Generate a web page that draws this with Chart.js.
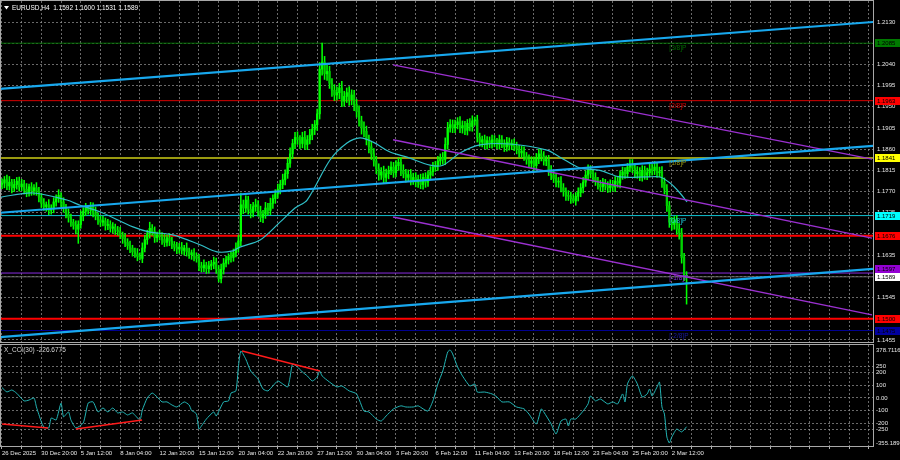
<!DOCTYPE html>
<html>
<head>
<meta charset="utf-8">
<script src="https://cdn.jsdelivr.net/npm/chart.js@4.4.1/dist/chart.umd.min.js"></script>
<style>
  html, body { margin: 0; padding: 0; background: #000; }
  #wrap { position: relative; width: 900px; height: 460px; background: #000; overflow: hidden; }
  #price { position: absolute; left: 0; top: 0; }
  #cci { position: absolute; left: 0; top: 344px; }
</style>
</head>
<body>
<div id="wrap">
  <canvas id="price" width="900" height="344"></canvas>
  <canvas id="cci" width="900" height="116"></canvas>
</div>
<script>
// ---- data ----
const symbol = "EURUSD,H4";
const timeLabels = ["26 Dec 2025", "30 Dec 20:00", "5 Jan 12:00", "8 Jan 04:00", "12 Jan 20:00",
  "15 Jan 12:00", "20 Jan 04:00", "22 Jan 20:00", "27 Jan 12:00", "30 Jan 04:00", "3 Feb 20:00",
  "6 Feb 12:00", "11 Feb 04:00", "13 Feb 20:00", "18 Feb 12:00", "23 Feb 04:00", "25 Feb 20:00",
  "2 Mar 12:00"];

const firstOpen = 1.1785;
const closes = [
  1.1788, 1.1795, 1.1782, 1.1790, 1.1778, 1.1785, 1.1792, 1.1780,
  1.1786, 1.1775, 1.1768, 1.1780, 1.1772, 1.1778, 1.1770, 1.1758,
  1.1745, 1.1738, 1.1742, 1.1730, 1.1735, 1.1748, 1.1755, 1.1762,
  1.1748, 1.1735, 1.1722, 1.1715, 1.1705, 1.1698, 1.1690, 1.1700,
  1.1718, 1.1728, 1.1735, 1.1730, 1.1738, 1.1725, 1.1718, 1.1710,
  1.1705, 1.1708, 1.1698, 1.1700, 1.1692, 1.1695, 1.1688, 1.1685,
  1.1678, 1.1670, 1.1662, 1.1655, 1.1650, 1.1642, 1.1638, 1.1632,
  1.1628, 1.1650, 1.1668, 1.1680, 1.1692, 1.1685, 1.1672, 1.1678,
  1.1675, 1.1668, 1.1662, 1.1672, 1.1665, 1.1658, 1.1652, 1.1648,
  1.1652, 1.1645, 1.1650, 1.1642, 1.1636, 1.1640, 1.1632, 1.1628,
  1.1612, 1.1608, 1.1614, 1.1606, 1.1612, 1.1616, 1.1620, 1.1605,
  1.1585, 1.1605, 1.1618, 1.1625, 1.1632, 1.1630, 1.1640, 1.1650,
  1.1665, 1.1742, 1.1735, 1.1752, 1.1732, 1.1725, 1.1738, 1.1742,
  1.1728, 1.1715, 1.1722, 1.1735, 1.1730, 1.1745, 1.1755, 1.1765,
  1.1775, 1.1785, 1.1795, 1.1808, 1.1830, 1.1850, 1.1872, 1.1885,
  1.1880, 1.1872, 1.1885, 1.1870, 1.1880, 1.1890, 1.1902, 1.1912,
  1.1935, 1.2030, 1.2045, 1.2020, 1.2025, 1.2000, 1.1985, 1.1975,
  1.1980, 1.1990, 1.1962, 1.1972, 1.1980, 1.1965, 1.1975, 1.1955,
  1.1940, 1.1920, 1.1905, 1.1898, 1.1880, 1.1865, 1.1850, 1.1835,
  1.1818, 1.1805, 1.1812, 1.1800, 1.1808, 1.1815, 1.1822, 1.1810,
  1.1825, 1.1832, 1.1815, 1.1808, 1.1800, 1.1806, 1.1795, 1.1800,
  1.1790, 1.1796, 1.1785, 1.1800, 1.1790, 1.1805, 1.1812, 1.1822,
  1.1825, 1.1835, 1.1842, 1.1838, 1.1870, 1.1905, 1.1912, 1.1905,
  1.1912, 1.1918, 1.1905, 1.1910, 1.1900, 1.1915, 1.1908, 1.1920,
  1.1922, 1.1885, 1.1875, 1.1880, 1.1870, 1.1878, 1.1872, 1.1880,
  1.1875, 1.1870, 1.1880, 1.1872, 1.1865, 1.1875, 1.1868, 1.1872,
  1.1866, 1.1860, 1.1852, 1.1856, 1.1845, 1.1838, 1.1830, 1.1835,
  1.1825, 1.1840, 1.1850, 1.1845, 1.1835, 1.1838, 1.1815, 1.1805,
  1.1798, 1.1790, 1.1792, 1.1778, 1.1770, 1.1762, 1.1760, 1.1755,
  1.1750, 1.1760, 1.1768, 1.1778, 1.1790, 1.1805, 1.1815, 1.1808,
  1.1800, 1.1792, 1.1785, 1.1780, 1.1788, 1.1782, 1.1778, 1.1785,
  1.1780, 1.1792, 1.1788, 1.1805, 1.1812, 1.1808, 1.1822, 1.1828,
  1.1820, 1.1808, 1.1812, 1.1802, 1.1815, 1.1805, 1.1810, 1.1818,
  1.1815, 1.1822, 1.1810, 1.1812, 1.1790, 1.1775, 1.1740, 1.1705,
  1.1700, 1.1708, 1.1690, 1.1682, 1.1630, 1.1592, 1.1589
];
// wick lengths in pips above / below the body
const upperWicks = [
  9,7,10,12,6,11,8,9, 10,8,12,6,9,7,11,9, 8,10,6,11,7,9,8,12, 6,9,8,11,7,6,10,8,
  11,8,10,6,9,8,12,7, 8,10,6,11,8,9,6,8, 9,6,11,8,10,6,8,11, 8,11,9,8,13,8,10,6,
  10,8,11,6,9,8,6,10, 8,10,6,11,8,6,9,8, 9,8,11,6,10,8,11,9, 8,11,10,8,6,9,8,11,
  12,25,10,9,8,11,9,12, 9,11,8,12,10,11,8,9, 11,9,12,8,11,13,9,11, 12,9,11,13,9,12,11,9,
  10,14,40,12,14,11,10,12, 12,10,14,11,10,13,11,10, 11,12,10,13,11,10,12,11, 10,11,9,12,10,9,11,10,
  11,9,10,12,9,10,11,9, 10,9,11,8,10,9,11,10, 9,10,8,11,14,12,11,10, 10,9,11,10,9,8,10,11,
  6,10,9,8,10,9,8,10, 9,8,10,9,8,10,9,8, 10,9,8,10,9,8,10,9, 9,11,10,9,10,8,9,10,
  10,9,8,10,9,8,10,9, 9,8,10,9,10,9,12,10, 9,10,8,9,10,8,9,10, 9,10,8,9,10,9,8,10,
  10,9,11,9,10,9,10,11, 10,12,9,10,11,9,10,9, 10,9,11,12,10,9,8
];
const lowerWicks = [
  9,10,8,9,11,8,10,9, 8,10,9,8,10,9,8,10, 9,8,10,9,8,10,9,8, 10,9,8,10,9,8,10,30,
  8,10,9,8,10,9,8,10, 9,8,10,9,8,10,9,8, 8,10,9,8,10,9,8,9, 3,9,8,10,9,8,10,9,
  8,10,9,8,10,9,8,10, 9,8,10,9,8,10,9,8, 10,9,8,10,9,8,10,9, 7,9,10,8,9,10,8,9,
  9,10,12,9,10,11,9,10, 10,9,11,9,10,9,11,10, 9,10,9,11,10,9,10,11, 10,11,9,10,11,9,10,11,
  12,11,13,12,14,11,13,12, 11,13,12,11,13,12,11,13, 12,11,13,12,11,13,12,11, 10,11,9,12,10,11,9,10,
  9,10,11,9,10,9,11,10, 10,11,9,10,11,9,10,9, 9,10,9,10,11,10,9,10, 10,9,10,11,9,10,9,10,
  9,10,9,10,9,10,9,10, 10,9,10,9,10,9,10,9, 9,10,9,10,9,10,9,10, 10,9,11,10,9,10,11,10,
  9,10,11,9,10,11,9,10, 4,9,10,9,11,9,10,9, 10,9,10,9,10,9,10,9, 9,10,9,10,9,10,9,10,
  10,9,10,9,10,9,10,9, 10,9,10,9,11,10,12,11, 12,10,11,13,12,11,58
];

// moving average: [bar, price]
const maPoints = [
  [-0.8, 1.1758], [12.6, 1.1767], [26.4, 1.1752], [31.7, 1.1741], [39.8, 1.1727], [53.2, 1.1695],
  [60.1, 1.1684], [69.4, 1.1678], [80.4, 1.1657], [87.3, 1.1642], [93.8, 1.1644], [96.6, 1.1652],
  [104.8, 1.1667], [112.9, 1.1705], [119, 1.1735], [123.9, 1.1752], [133.2, 1.1837], [140.1, 1.1873],
  [145.4, 1.1884], [150.7, 1.1875], [157.6, 1.1854], [164.5, 1.1843], [173.8, 1.1826], [179.1, 1.1826],
  [186, 1.1852], [194.1, 1.1869], [206.3, 1.1871], [221.3, 1.1858], [226.6, 1.1843], [234.7, 1.1820],
  [242.8, 1.1815], [251, 1.1801], [261.9, 1.1801], [267.2, 1.1801], [271.3, 1.1788], [275.3, 1.1767],
  [278.2, 1.1748]
];

// channel lines (cyan) and fan lines (purple): [bar, price] end points
const channelLines = [
  [[-0.8, 1.1988], [353.7, 1.2130]],
  [[-0.8, 1.1725], [353.7, 1.1867]],
  [[-0.8, 1.1461], [353.7, 1.1606]]
];
const fanLines = [
  [[158.8, 1.2039], [353.3, 1.1839]],
  [[158.8, 1.1880], [353.3, 1.1671]],
  [[158.8, 1.1716], [353.3, 1.1508]]
];

const murrayValues = [1.2085, 1.1963, 1.1841, 1.1719, 1.1597, 1.1475];
const murrayNames = ["[3/8]P", "[2/8]P", "[1/8]P", "[0/8]P", "[-1/8]P", "[-2/8]P"];
const supportLevels = [1.1676, 1.1500];
const bidPrice = 1.1589;

const priceTicks = [1.1455, 1.1500, 1.1545, 1.1590, 1.1635, 1.1680, 1.1725, 1.1770, 1.1815,
  1.1860, 1.1905, 1.1950, 1.1995, 1.2040, 1.2085, 1.2130];

// CCI(30): [bar, value]
const cciPoints = [
  [0,82],[2,48],[4,63],[6,37],[9,-23],[11,-16],[13,0],[14,-71],[16,-189],[17,-229],[19,-236],[20,-158],
  [22,-173],[24,-40],[25,-149],[27,-110],[28,-173],[30,-236],[33,-197],[35,-40],[37,-31],[39,-110],
  [41,-79],[43,-110],[45,-79],[47,-118],[49,-110],[51,-134],[53,-118],[56,-173],[57,-95],[59,0],[61,39],
  [63,8],[65,-31],[67,-31],[69,-55],[71,-71],[74,-31],[76,-55],[77,-99],[78,-110],[79,-127],[80,-245],
  [81,-221],[83,-166],[86,-110],[87,-142],[90,-31],[92,-23],[93,39],[95,56],[96,245],[97,370],[99,307],
  [101,213],[104,150],[106,71],[108,56],[110,95],[112,134],[114,111],[116,87],[117,165],[118,268],
  [120,245],[122,205],[124,174],[126,134],[128,165],[129,213],[130,174],[133,126],[136,87],[138,95],
  [141,56],[144,32],[147,-103],[149,-110],[152,-166],[154,-182],[156,-142],[159,-86],[162,-62],[164,-71],
  [167,-71],[169,-62],[171,-86],[173,-103],[175,-23],[177,111],[179,213],[181,363],[182,378.7116],
  [183,348],[185,245],[187,174],[190,95],[192,111],[193,47],[196,47],[199,32],[201,8],[203,-31],
  [206,-31],[209,-71],[212,-86],[214,-127],[217,-205],[219,-86],[220,-110],[223,-205],[225,-284],
  [227,-182],[229,-166],[230,-221],[231,-166],[233,-166],[236,-103],[238,-47],[239,16],[241,-23],
  [243,-8],[246,-47],[248,-31],[250,-47],[252,32],[253,-31],[254,111],[256,174],[258,111],[260,8],
  [262,32],[263,71],[264,16],[266,87],[267,126],[268,-71],[269,-127],[270,-308],[271,-355.189],
  [272,-308],[274,-245],[276,-268],[278,-226.6775]
];
const cciDivergences = [
  [[0, -205], [18.7, -237]],
  [[30, -245], [56.9, -174]],
  [[97.5, 371], [129.1, 213]]
];
const cciTicks = [-355.189, -250, -200, -100, 0, 100, 200, 250, 378.7116];
const cciPeriod = 30;

// ---- build ----
const FONT = "'Liberation Sans', Arial, sans-serif";
Chart.defaults.font.family = FONT;
Chart.defaults.font.size = 6;

const X_MIN = -0.8, X_MAX = 353.7;
const gridColor = "rgba(150,150,150,0.7)";
const frameColor = "#a8a8a8";

const opens = closes.map((c, i) => i === 0 ? firstOpen : closes[i - 1]);
const highs = closes.map((c, i) => Math.max(opens[i], c) + upperWicks[i] * 0.0001);
const lows = closes.map((c, i) => Math.min(opens[i], c) - lowerWicks[i] * 0.0001);

const wickData = closes.map((c, i) => ({ x: i, y: [lows[i], highs[i]] }));
const bodyData = closes.map((c, i) => ({ x: i, y: [opens[i], c] }));
const bodyColors = closes.map((c, i) => c >= opens[i] ? "#00ff00" : "#00d200");

const murrayColors = ["#006a00", "#d80000", "#9a9a10", "#10c0d0", "#8a2be2", "#000090"];
const murrayTags = ["#007a00", "#ff0000", "#ffff00", "#00ffff", "#9400d3", "#0000a0"];
const murrayWidths = [1, 1, 2, 1, 1, 1];

function segment(points) {
  return points.map(p => ({ x: p[0], y: p[1] }));
}
function hline(v) {
  return [{ x: X_MIN, y: v }, { x: X_MAX, y: v }];
}

const datasets = [];
channelLines.forEach(l => datasets.push({
  type: "line", data: segment(l), borderColor: "#18a8ee", borderWidth: 2.2,
  pointRadius: 0, order: 0
}));
fanLines.forEach(l => datasets.push({
  type: "line", data: segment(l), borderColor: "#9b30d0", borderWidth: 1.3,
  pointRadius: 0, order: 0
}));
datasets.push({
  type: "line", data: segment(maPoints), borderColor: "#30c0c8", borderWidth: 1.2,
  pointRadius: 0, tension: 0.3, order: 1
});
datasets.push({
  type: "bar", data: bodyData, backgroundColor: bodyColors, barThickness: 1.6,
  minBarLength: 1, grouped: false, order: 2
});
datasets.push({
  type: "bar", data: wickData, backgroundColor: "#00ff00", barThickness: 0.9,
  grouped: false, order: 3
});
murrayValues.forEach((v, i) => datasets.push({
  type: "line", data: hline(v), borderColor: murrayColors[i], borderWidth: murrayWidths[i],
  pointRadius: 0, order: 5
}));
supportLevels.forEach(v => datasets.push({
  type: "line", data: hline(v), borderColor: "#ff0000", borderWidth: 2,
  pointRadius: 0, order: 5
}));
datasets.push({
  type: "line", data: hline(bidPrice), borderColor: "#6a6a6a", borderWidth: 1,
  pointRadius: 0, order: 5
});

function xGridTicks(scale) {
  const t = [];
  for (let v = 0; v <= X_MAX; v += 8) t.push({ value: v });
  scale.ticks = t;
}
function noPad(s) {
  s.paddingTop = 0; s.paddingBottom = 0; s.paddingLeft = 0; s.paddingRight = 0;
}

// price tags on the right axis; a tag that would overlap the one below is pushed up
function drawTags(chart, tags) {
  const { ctx, chartArea, scales } = chart;
  const H = 8;
  const items = tags.map(t => Object.assign({ py: Math.round(scales.y.getPixelForValue(t.value)) }, t))
    .sort((a, b) => b.py - a.py);
  for (let i = 1; i < items.length; i++) {
    if (items[i - 1].py - items[i].py < H) items[i].py = items[i - 1].py - H;
  }
  ctx.font = "6px " + FONT;
  ctx.textAlign = "left";
  ctx.textBaseline = "middle";
  items.forEach(t => {
    ctx.fillStyle = t.bg;
    ctx.fillRect(chartArea.right + 2, t.py - 4, 25, H);
    ctx.fillStyle = "#000";
    ctx.fillText(t.value.toFixed(4), chartArea.right + 4, t.py + 0.5);
  });
}

const pricePlugin = {
  id: "pricePlugin",
  afterDatasetsDraw(chart) {
    const { ctx, scales } = chart;
    ctx.save();
    ctx.font = "6.5px " + FONT;
    ctx.textAlign = "left";
    ctx.textBaseline = "top";
    const lx = scales.x.getPixelForValue(271);
    murrayValues.forEach((v, i) => {
      ctx.fillStyle = i === 3 ? "#20c8d8" : (i === 5 ? "#1a1aa0" : murrayColors[i]);
      ctx.fillText(murrayNames[i], lx, scales.y.getPixelForValue(v) + 2);
    });
    ctx.restore();
  },
  afterDraw(chart) {
    const { ctx, chartArea } = chart;
    ctx.save();
    ctx.strokeStyle = frameColor;
    ctx.lineWidth = 1;
    ctx.strokeRect(chartArea.left + 0.5, chartArea.top - 0.5, chartArea.right - chartArea.left, chartArea.bottom - chartArea.top + 1);
    const tags = murrayValues.map((v, i) => ({ value: v, bg: murrayTags[i] }));
    supportLevels.forEach(v => tags.push({ value: v, bg: "#ff0000" }));
    tags.push({ value: bidPrice, bg: "#ffffff" });
    drawTags(chart, tags);
    // title
    const n = closes.length - 1;
    ctx.fillStyle = "#ffffff";
    ctx.beginPath();
    ctx.moveTo(4, 6); ctx.lineTo(9, 6); ctx.lineTo(6.5, 9.5); ctx.closePath(); ctx.fill();
    ctx.font = "6.5px " + FONT;
    ctx.textAlign = "left";
    ctx.textBaseline = "middle";
    ctx.fillText(symbol + "  " + opens[n].toFixed(4) + " " + highs[n].toFixed(4) + " " +
      lows[n].toFixed(4) + " " + closes[n].toFixed(4), 12, 8);
    ctx.restore();
  }
};

new Chart(document.getElementById("price"), {
  type: "bar",
  data: { datasets: datasets },
  plugins: [pricePlugin],
  options: {
    responsive: false,
    animation: false,
    layout: { padding: { top: 1, bottom: 2, left: 0, right: 0 } },
    plugins: { legend: { display: false }, tooltip: { enabled: false } },
    scales: {
      x: {
        type: "linear", min: X_MIN, max: X_MAX, offset: false,
        afterBuildTicks: xGridTicks,
        afterFit: s => { s.height = 0; noPad(s); },
        grid: { color: gridColor, offset: false, drawTicks: false },
        border: { display: false, dash: [2, 2] },
        ticks: { display: false }
      },
      y: {
        position: "right", min: 1.14506, max: 1.21746,
        afterBuildTicks: s => { s.ticks = priceTicks.map(v => ({ value: v })); },
        afterFit: s => { s.width = 27; noPad(s); },
        grid: { color: gridColor, drawTicks: false },
        border: { display: false, dash: [2, 2] },
        ticks: {
          color: "#e6e6e6", padding: 4, autoSkip: false,
          callback: v => v.toFixed(4)
        }
      }
    }
  }
});

// ---- CCI pane ----
const cciDatasets = cciDivergences.map(l => ({
  data: segment(l), borderColor: "#ff1a1a", borderWidth: 1.5, pointRadius: 0, order: 0
}));
cciDatasets.push({
  data: segment(cciPoints), borderColor: "#22b4b4", borderWidth: 1, pointRadius: 0, tension: 0.2, order: 1
});

const cciPlugin = {
  id: "cciPlugin",
  afterDraw(chart) {
    const { ctx, chartArea } = chart;
    ctx.save();
    ctx.strokeStyle = frameColor;
    ctx.lineWidth = 1;
    ctx.strokeRect(chartArea.left + 0.5, chartArea.top - 0.5, chartArea.right - chartArea.left, chartArea.bottom - chartArea.top + 1);
    const last = cciPoints[cciPoints.length - 1][1];
    ctx.fillStyle = "#d8d8d8";
    ctx.font = "6.5px " + FONT;
    ctx.textAlign = "left";
    ctx.textBaseline = "middle";
    ctx.fillText("X_CCI(" + cciPeriod + ") " + last.toFixed(4), 4, chartArea.top + 5);
    ctx.restore();
  }
};

new Chart(document.getElementById("cci"), {
  type: "line",
  data: { datasets: cciDatasets },
  plugins: [cciPlugin],
  options: {
    responsive: false,
    animation: false,
    layout: { padding: { top: 1, bottom: 0, left: 0, right: 0 } },
    plugins: { legend: { display: false }, tooltip: { enabled: false } },
    scales: {
      x: {
        type: "linear", min: X_MIN, max: X_MAX, offset: false,
        afterBuildTicks: xGridTicks,
        afterFit: s => { s.height = 14; noPad(s); },
        grid: { color: gridColor, offset: false, tickLength: 3, tickColor: "#b0b0b0" },
        border: { display: false, dash: [2, 2] },
        ticks: {
          color: "#e6e6e6", autoSkip: false, maxRotation: 0, align: "start", padding: 1,
          callback: v => (v % 16 === 0 && v / 16 < timeLabels.length) ? timeLabels[v / 16] : ""
        }
      },
      y: {
        position: "right", min: -378.9, max: 418.2,
        afterBuildTicks: s => { s.ticks = cciTicks.map(v => ({ value: v })); },
        afterFit: s => { s.width = 27; noPad(s); },
        grid: {
          drawTicks: false,
          color: c => (c.tick && (c.tick.value === cciTicks[0] || c.tick.value === cciTicks[cciTicks.length - 1])) ? "rgba(0,0,0,0)" : gridColor
        },
        border: { display: false, dash: [2, 2] },
        ticks: {
          color: "#e6e6e6", padding: 3, autoSkip: false,
          callback: v => v === 0 ? "0.00" : String(v)
        }
      }
    }
  }
});
</script>
</body>
</html>
